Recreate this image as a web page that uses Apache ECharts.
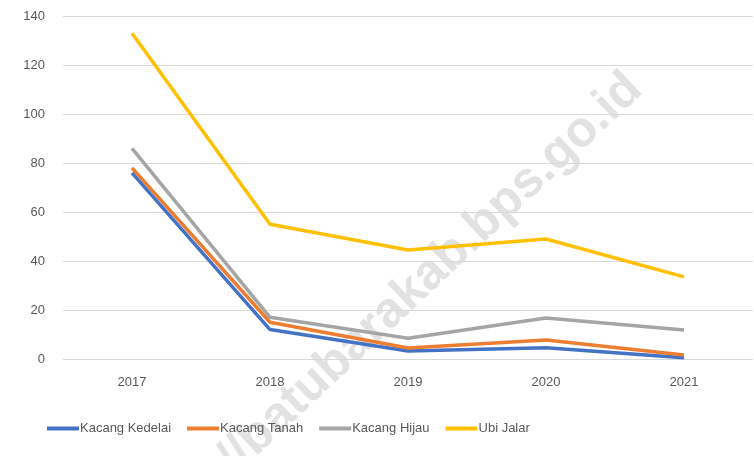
<!DOCTYPE html>
<html>
<head>
<meta charset="utf-8">
<script src="https://cdn.jsdelivr.net/npm/echarts@6/dist/echarts.min.js"></script>
<style>
  html, body { margin: 0; padding: 0; background: #fff; }
  #chart { width: 754px; height: 456px; }
</style>
</head>
<body>
<div id="chart"></div>
<script>
// data
var years = ['2017', '2018', '2019', '2020', '2021'];
var kedelai = [76, 12, 3.3, 4.6, 0.5];
var tanah = [78, 15, 4.5, 7.8, 1.6];
var hijau = [86, 17, 8.5, 16.7, 11.8];
var ubiJalar = [133, 55, 44.5, 49, 33.5];
var yTicks = [0, 20, 40, 60, 80, 100, 120, 140];

var font = "'Liberation Sans', sans-serif";
var textCol = '#595959';

function line(name, data, color) {
  return {
    name: name,
    type: 'line',
    data: data,
    symbol: 'none',
    lineStyle: { color: color, width: 3.5 },
    itemStyle: { color: color },
    z: 3
  };
}

var chart = echarts.init(document.getElementById('chart'));
chart.setOption({
  animation: false,
  grid: { left: 63, right: 1, top: 16, bottom: 97 },
  xAxis: {
    type: 'category',
    data: years,
    axisLine: { show: false },
    axisTick: { show: false },
    axisLabel: { color: textCol, fontSize: 13, fontFamily: font, margin: 17 }
  },
  yAxis: {
    type: 'value',
    min: yTicks[0],
    max: yTicks[yTicks.length - 1],
    interval: 20,
    axisLine: { show: false },
    axisTick: { show: false },
    splitLine: { lineStyle: { color: '#d9d9d9', width: 1 } },
    axisLabel: { color: textCol, fontSize: 13, fontFamily: font, margin: 18 }
  },
  legend: {
    bottom: 16,
    left: 42,
    itemWidth: 32,
    itemHeight: 4,
    itemGap: 16,
    icon: 'rect',
    textStyle: { color: textCol, fontSize: 13, fontFamily: font, padding: [0, 0, 0, -4] }
  },
  graphic: [{
    type: 'text',
    x: 652,
    y: 100,
    rotation: Math.PI / 4 * 0.96,
    z: 0,
    silent: true,
    style: {
      text: 'https://batubarakab.bps.go.id',
      font: "bold 50px 'Liberation Sans', sans-serif",
      fill: '#e2e2e2',
      align: 'right',
      verticalAlign: 'bottom'
    }
  }],
  series: [
    line('Kacang Kedelai', kedelai, '#4472C4'),
    line('Kacang Tanah', tanah, '#ED7D31'),
    line('Kacang Hijau', hijau, '#A5A5A5'),
    line('Ubi Jalar', ubiJalar, '#FFC000')
  ]
});
</script>
</body>
</html>
